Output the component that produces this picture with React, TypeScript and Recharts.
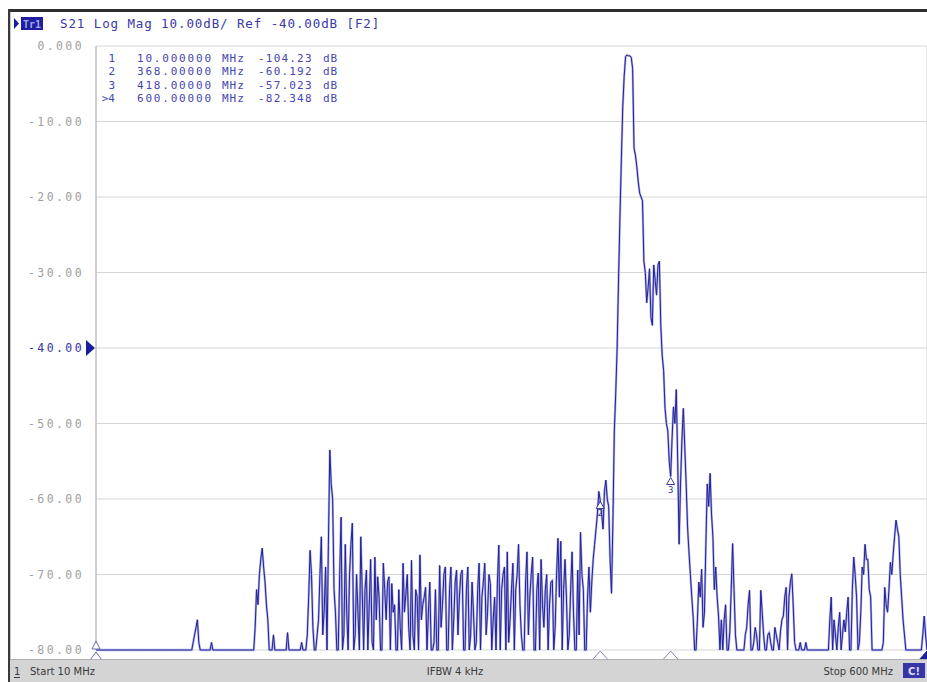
import React from "react";
import { CartesianGrid, Line, LineChart, ReferenceDot, XAxis, YAxis } from "recharts";

// sweep: 10 MHz .. 600 MHz, read at every MHz
const START_MHZ = 10;
const STEP_MHZ = 2;

// S21 log mag (dB) at the even-MHz points 10, 12, ... 600 (values under -80 sit on the bottom edge)
const s21 = [
  -104.23, -80, -80, -80, -80, -80, -80, -80, -80, -80,
  -80, -80, -80, -80, -80, -80, -80, -80, -80, -80,
  -80, -80, -80, -80, -80, -80, -80, -80, -80, -80,
  -80, -80, -80, -80, -80, -78, -76, -80, -80, -80,
  -80, -79, -80, -80, -80, -80, -80, -80, -80, -80,
  -80, -80, -80, -80, -80, -80, -80, -72, -70, -66.5,
  -71, -76, -80, -78, -80, -80, -80, -80, -77.7, -80,
  -80, -80, -80, -79, -80, -78, -66.8, -77, -80, -76,
  -65, -74.7, -80, -53.5, -60, -75, -80, -62.4, -78, -75,
  -70, -63.2, -78, -75, -65, -80, -69.4, -74, -79, -67.7,
  -70.3, -80, -68.5, -76, -70.3, -71.2, -74, -80, -77, -68.5,
  -72.6, -77, -68.1, -80, -73, -67.4, -74, -71.7, -75, -80,
  -79, -80, -68.8, -74, -69, -80, -69, -76, -69.4, -73,
  -69.4, -80, -69, -78, -75, -79, -68.5, -73, -68.5, -75,
  -71.2, -76, -80, -66.1, -72, -69, -67, -76, -68.5, -72,
  -66, -78, -80, -67, -73, -67.7, -80, -69.8, -68, -77,
  -70, -74, -70.8, -77, -65.2, -65.6, -72, -73, -78, -67,
  -80, -69.4, -64.4, -72, -80, -69, -71, -66, -62, -60.19,
  -64, -57.5, -61, -72.5, -51, -40, -22.7, -8, -1.4, -1.3,
  -1.5, -13.5, -16, -19.5, -20.5, -30, -32, -36, -29, -33,
  -28.5, -41, -48, -51, -57.02, -47.8, -45.5, -66, -52.2, -53,
  -63.7, -70, -75.7, -80, -71, -69.3, -75, -58, -56.6, -65,
  -69, -75.5, -76, -76, -80, -77.6, -65.9, -78, -80, -80,
  -80, -77, -72.1, -80, -77, -80, -72.1, -78, -80, -77.7,
  -80, -77, -79, -77.5, -75.5, -71.7, -73, -69.9, -79, -80,
  -79, -80, -79, -80, -80, -80, -80, -80, -80, -80,
  -80, -73, -76, -80, -75, -78, -77.6, -73, -80, -67.7,
  -73, -79, -69, -66, -68, -73, -80, -80, -80, -80,
  -71.7, -75, -68.4, -67.3, -62.8, -65, -73, -78, -80, -80,
  -80, -80, -80, -80, -75.5, -82.35,
];

// S21 at the odd-MHz points 11, 13, ... 599
const s21Odd = [
  -80, -80, -80, -80, -80, -80, -80, -80, -80, -80,
  -80, -80, -80, -80, -80, -80, -80, -80, -80, -80,
  -80, -80, -80, -80, -80, -80, -80, -80, -80, -80,
  -80, -80, -80, -80, -79, -77, -79, -80, -80, -80,
  -80, -80, -80, -80, -80, -80, -80, -80, -80, -80,
  -80, -80, -80, -80, -80, -80, -77, -74, -68, -69,
  -74, -80, -80, -80, -80, -80, -80, -80, -80, -80,
  -80, -80, -80, -80, -80, -73, -70, -80, -78, -70,
  -78, -69, -66, -58, -72, -80, -70, -80, -66, -80,
  -66, -80, -70, -80, -72, -72, -80, -68, -80, -76,
  -73, -80, -72, -71, -80, -75, -80, -72, -80, -75,
  -70, -80, -78, -72, -80, -76, -73, -80, -71, -80,
  -72, -80, -77, -70, -80, -72, -80, -71, -78, -70,
  -80, -72, -80, -71, -80, -72, -80, -71, -78, -70,
  -80, -73, -71, -80, -70, -80, -79, -72, -80, -70,
  -74, -80, -71, -78, -70, -80, -72, -80, -74, -72,
  -80, -71, -80, -70, -73, -80, -68, -80, -72, -75,
  -80, -78, -70, -80, -73, -75, -68, -64, -59, -62,
  -59, -60, -68, -63, -46, -31, -15, -4, -1.2, -1.3,
  -3, -14.5, -18, -20, -28.5, -34, -29.5, -37, -31, -29,
  -37, -43, -50, -55, -52, -50, -55, -58, -48, -58,
  -67, -73, -80, -76, -73, -77, -66, -61, -62, -72,
  -73, -80, -80, -74, -80, -72, -72, -80, -80, -80,
  -78, -74, -80, -79, -78, -80, -75, -80, -78, -79,
  -80, -78, -80, -76, -73, -80, -71, -74, -80, -80,
  -80, -80, -80, -80, -80, -80, -80, -80, -80, -80,
  -76, -80, -78, -77, -80, -76, -75, -80, -72, -70,
  -80, -75, -70, -68, -72, -80, -80, -80, -80, -79,
  -74, -72, -70, -65, -64, -70, -76, -80, -80, -80,
  -80, -80, -80, -78, -78,
];

const yTicks = [0, -10, -20, -30, -40, -50, -60, -70, -80];
const xTicks = [10, 69, 128, 187, 246, 305, 364, 423, 482, 541, 600];

const markerRows = [
  { id: "1", freq: "10.000000", val: "-104.23" },
  { id: "2", freq: "368.00000", val: "-60.192" },
  { id: "3", freq: "418.00000", val: "-57.023" },
  { id: ">4", freq: "600.00000", val: "-82.348" },
];

const data: { f: number; db: number }[] = [];
s21.forEach((v, i) => {
  data.push({ f: START_MHZ + i * STEP_MHZ, db: Math.max(v, -80) });
  if (i < s21Odd.length) data.push({ f: START_MHZ + i * STEP_MHZ + 1, db: Math.max(s21Odd[i], -80) });
});

const MONO = "'DejaVu Sans Mono', monospace";

function fmt(v: number) {
  return v === 0 ? "0.000" : v.toFixed(2);
}

function YTick(props: any) {
  const { x, y, payload } = props;
  const ref = payload.value === -40;
  return (
    <g>
      <text
        x={x - 12}
        y={y}
        dy={4}
        textAnchor="end"
        fontFamily={MONO}
        fontSize={11.5}
        letterSpacing={2.4}
        fill={ref ? "#3434a8" : "#a0a0a0"}
      >
        {fmt(payload.value)}
      </text>
      {ref && <polygon points={`${x - 10},${y - 8} ${x - 1},${y} ${x - 10},${y + 8}`} fill="#1c1c9c" />}
    </g>
  );
}

// marker sitting on the trace
function TraceMarker(label: string) {
  return (props: any) => {
    const { cx, cy } = props;
    return (
      <g>
        <polygon points={`${cx - 4},${cy + 8} ${cx + 4},${cy + 8} ${cx},${cy + 1}`} fill="#fff" stroke="#3a3a9a" strokeWidth={1} />
        <text x={cx} y={cy + 16} textAnchor="middle" fontFamily={MONO} fontSize={9} fill="#3a3a9a">
          {label}
        </text>
      </g>
    );
  };
}

// marker triangle under the bottom edge
function EdgeMarker(filled: boolean) {
  return (props: any) => {
    const { cx, cy } = props;
    return (
      <polygon
        points={`${cx - 8},${cy + 10} ${cx + 8},${cy + 10} ${cx},${cy + 1}`}
        fill={filled ? "#1c1c9c" : "#fff"}
        stroke={filled ? "#1c1c9c" : "#8484ac"}
        strokeWidth={1}
      />
    );
  };
}

function StartMarker(props: any) {
  const { cx, cy } = props;
  return (
    <g stroke="#6a6ab0" fill="#fff" strokeWidth={1}>
      <polygon points={`${cx - 4},${cy - 1} ${cx + 4},${cy - 1} ${cx},${cy - 9}`} />
      <polygon points={`${cx - 6},${cy + 10} ${cx + 6},${cy + 10} ${cx},${cy + 2}`} />
    </g>
  );
}

export default function App() {
  return (
    <div style={{ position: "fixed", left: 0, top: 0, width: 927, height: 682, background: "#fff", overflow: "hidden" }}>
      <LineChart width={927} height={682} data={data} margin={{ top: 46, right: 0, bottom: 0, left: 0 }}>
        <CartesianGrid stroke="#d6d6d6" strokeWidth={1} />
        <XAxis
          dataKey="f"
          type="number"
          domain={[10, 600]}
          ticks={xTicks}
          tick={false}
          tickLine={false}
          axisLine={false}
          height={32}
        />
        <YAxis
          type="number"
          domain={[-80, 0]}
          ticks={yTicks}
          width={96}
          tickSize={0}
          tickMargin={0}
          tickLine={false}
          axisLine={{ stroke: "#b4b4b4" }}
          tick={<YTick />}
          interval={0}
        />
        {/* soft halo under the trace, like the screen's smoothing */}
        <Line type="linear" dataKey="db" stroke="#b0b0e8" strokeWidth={2.3} dot={false} isAnimationActive={false} />
        <Line type="linear" dataKey="db" stroke="#222296" strokeWidth={1} dot={false} isAnimationActive={false} />
        <ReferenceDot x={368} y={-60.19} r={0} shape={TraceMarker("2")} />
        <ReferenceDot x={418} y={-57.02} r={0} shape={TraceMarker("3")} />
        <ReferenceDot x={10} y={-80} r={0} shape={StartMarker} />
        <ReferenceDot x={368} y={-80} r={0} shape={EdgeMarker(false)} />
        <ReferenceDot x={418} y={-80} r={0} shape={EdgeMarker(false)} />
        <ReferenceDot x={600} y={-80} r={0} shape={EdgeMarker(true)} />
      </LineChart>

      <svg width={927} height={682} style={{ position: "absolute", left: 0, top: 0, pointerEvents: "none" }}>
        {/* window frame */}
        <rect x={8} y={9} width={919} height={3} fill="#2e2e2e" />
        <rect x={8} y={9} width={2} height={673} fill="#3a3a3a" />
        <rect x={10} y={12} width={1} height={670} fill="#c8c8c8" />

        {/* trace title */}
        <polygon points="14,18 19,23.5 14,29" fill="#1c1c9c" />
        <rect x={21} y={17} width={22} height={13} fill="#1e1e9e" />
        <text x={32} y={27.5} textAnchor="middle" fontFamily={MONO} fontSize={10} fontWeight="bold" fill="#a8a8f0">
          Tr1
        </text>
        <text x={60} y={28} fontFamily={MONO} fontSize={12.5} letterSpacing={0.9} fill="#3838a8">
          S21 Log Mag 10.00dB/ Ref -40.00dB [F2]
        </text>

        {/* marker table */}
        {markerRows.map((r, i) => {
          const y = 62 + i * 13.3;
          const props = { fontFamily: MONO, fontSize: 11, fill: "#4646b4" } as const;
          return (
            <g key={r.id}>
              <text x={115} y={y} textAnchor="end" {...props}>{r.id}</text>
              <text x={137} y={y} letterSpacing={1.8} {...props}>{r.freq}</text>
              <text x={222} y={y} letterSpacing={1} {...props}>MHz</text>
              <text x={258} y={y} letterSpacing={1.2} {...props}>{r.val}</text>
              <text x={323} y={y} letterSpacing={1} {...props}>dB</text>
            </g>
          );
        })}

        {/* status bar */}
        <rect x={10} y={659} width={917} height={23} fill="#d4d4d4" />
        <rect x={10} y={659} width={917} height={1} fill="#b0b0b0" />
        <g fontFamily="'DejaVu Sans', sans-serif" fontSize={10} fill="#3a3a3a">
          <text x={14} y={675}>1</text>
          <rect x={14} y={677} width={6} height={1} fill="#3a3a3a" />
          <text x={30} y={675}>Start 10 MHz</text>
          <text x={455} y={675} textAnchor="middle">IFBW 4 kHz</text>
          <text x={893} y={675} textAnchor="end">Stop 600 MHz</text>
        </g>
        <rect x={903} y={663} width={22} height={15} fill="#3636a6" />
        <text x={914} y={675} textAnchor="middle" fontFamily="'DejaVu Sans', sans-serif" fontSize={10} fontWeight="bold" fill="#dcdcff">
          C!
        </text>
      </svg>
    </div>
  );
}
